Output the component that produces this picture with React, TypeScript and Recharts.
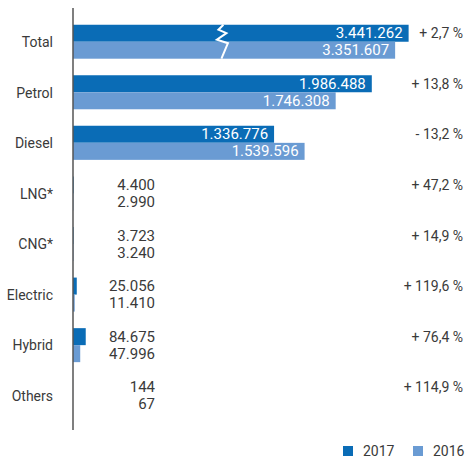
import { Bar, BarChart, LabelList, XAxis, YAxis } from "recharts";

const categories = ["Total", "Petrol", "Diesel", "LNG*", "CNG*", "Electric", "Hybrid", "Others"];
const values2017 = [3441262, 1986488, 1336776, 4400, 3723, 25056, 84675, 144];
const values2016 = [3351607, 1746308, 1539596, 2990, 3240, 11410, 47996, 67];
const changePct = [2.7, 13.8, -13.2, 47.2, 14.9, 119.6, 76.4, 114.9];

// the Total bars are drawn with a broken axis
const brokenCategory = "Total";
const axisBreak = 1210000;
const breakMark = 1010000;

const DARK = "#0a6cb6";
const LIGHT = "#6a9bd3";
const TEXT = "#3a3a3a";
const FONT = "Roboto, sans-serif";

const data = categories.map((name, i) => ({
    name,
    v2017: values2017[i],
    v2016: values2016[i],
    p2017: name === brokenCategory ? values2017[i] - axisBreak : values2017[i],
    p2016: name === brokenCategory ? values2016[i] - axisBreak : values2016[i],
    pct: changePct[i],
}));

const fmt = (n: number) => String(n).replace(/\B(?=(\d{3})+(?!\d))/g, ".");
const fmtPct = (p: number) =>
    (p >= 0 ? "+ " : "- ") + Math.abs(p).toFixed(1).replace(".", ",") + " %";

const ValueLabel = (props: any) => {
    const { x, y, width, height, value } = props;
    const inside = width > 60;
    return (
        <text
            x={inside ? x + width - 6 : 155}
            y={y + height / 2}
            dy={5}
            textAnchor="end"
            fill={inside ? "#fff" : TEXT}
            fontSize={15}
            fontFamily={FONT}
        >
            {fmt(value)}
        </text>
    );
};

const PctLabel = (props: any) => {
    const { y, height, value } = props;
    return (
        <text x={463} y={y + height / 2} dy={5} textAnchor="end" fill={TEXT} fontSize={14} fontFamily={FONT}>
            {fmtPct(value)}
        </text>
    );
};

const BrokenBar = (props: any) => {
    const { x, y, width, height, fill, payload } = props;
    const rect = <rect x={x} y={y} width={Math.max(width, 0)} height={height} fill={fill} />;
    if (payload.name !== brokenCategory) return rect;
    const bx = x + (width * breakMark) / payload.p2016;
    const top = y - height;
    const pts = [
        [bx - 1.5, top],
        [bx - 6.5, top + 5],
        [bx + 1.5, top + 8.5],
        [bx - 8, top + 15],
        [bx + 3, top + 18.5],
        [bx - 3.5, top + 34],
    ]
        .map((p) => p.join(","))
        .join(" ");
    return (
        <g>
            {rect}
            <polyline points={pts} fill="none" stroke="#fff" strokeWidth={2} />
        </g>
    );
};

const CategoryTick = (props: any) => {
    const { y, payload } = props;
    return (
        <text x={53} y={y} dy={5} textAnchor="end" fill={TEXT} fontSize={14} fontFamily={FONT}>
            {payload.value}
        </text>
    );
};

const legendItems = [
    { label: "2017", color: DARK, left: 343 },
    { label: "2016", color: LIGHT, left: 413 },
];

export default function App() {
    return (
        <div style={{ position: "absolute", left: 0, top: 0, width: 466, height: 458, background: "#fff", overflow: "hidden" }}>
            <BarChart
                width={466}
                height={458}
                data={data}
                layout="vertical"
                margin={{ top: 8, right: 32, bottom: 28, left: 0 }}
                barSize={17}
                barGap={0}
            >
                <XAxis type="number" hide domain={[0, 2400000]} />
                <YAxis
                    type="category"
                    dataKey="name"
                    width={73}
                    padding={{ top: 8.7, bottom: 8.7 }}
                    axisLine={{ stroke: "#555", strokeWidth: 1.5 }}
                    tickLine={false}
                    tick={<CategoryTick />}
                    interval={0}
                />
                <Bar dataKey="p2017" fill={DARK} isAnimationActive={false}>
                    <LabelList dataKey="v2017" content={<ValueLabel />} />
                    <LabelList dataKey="pct" content={<PctLabel />} />
                </Bar>
                <Bar dataKey="p2016" fill={LIGHT} isAnimationActive={false} shape={<BrokenBar />}>
                    <LabelList dataKey="v2016" content={<ValueLabel />} />
                </Bar>
            </BarChart>
            {legendItems.map((it) => (
                <div
                    key={it.label}
                    style={{
                        position: "absolute",
                        left: it.left,
                        top: 445,
                        height: 12,
                        display: "flex",
                        alignItems: "center",
                        fontFamily: FONT,
                        fontSize: 14,
                        lineHeight: "12px",
                        color: TEXT,
                    }}
                >
                    <span style={{ width: 10, height: 10, background: it.color, marginRight: 10 }} />
                    <span>{it.label}</span>
                </div>
            ))}
        </div>
    );
}
